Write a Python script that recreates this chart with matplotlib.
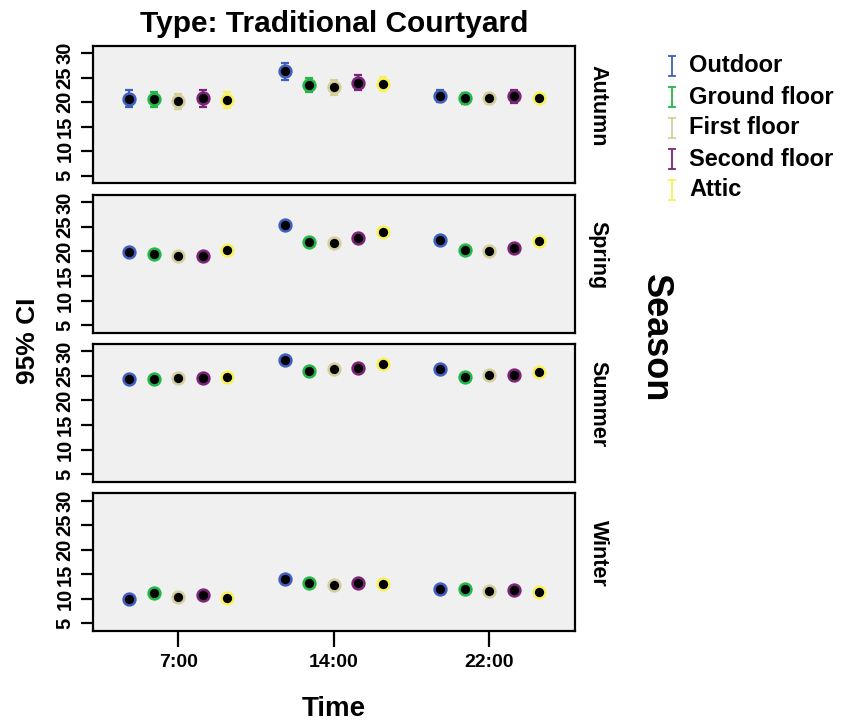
import numpy as np
import matplotlib
matplotlib.use('Agg')
import matplotlib.pyplot as plt
from matplotlib.lines import Line2D
from matplotlib.path import Path

plt.rcParams['font.family'] = ['Liberation Sans', 'DejaVu Sans']
plt.rcParams['font.weight'] = 'bold'

times = ['7:00', '14:00', '22:00']
locations = ['Outdoor', 'Ground floor', 'First floor', 'Second floor', 'Attic']
colors = ['#3f5fbf', '#22b845', '#d6cf9c', '#7b2479', '#f7f25a']
seasons = ['Autumn', 'Spring', 'Summer', 'Winter']

# mean temperature, one row per location, one column per time
autumn = [[20.7, 26.25, 21.3],
          [20.55, 23.5, 20.75],
          [20.15, 23.05, 20.75],
          [20.8, 23.95, 21.2],
          [20.5, 23.75, 20.8]]
spring = [[19.85, 25.4, 22.4],
          [19.45, 22.0, 20.3],
          [19.0, 21.8, 20.0],
          [19.0, 22.8, 20.7],
          [20.25, 24.0, 22.2]]
summer = [[24.3, 28.2, 26.35],
          [24.45, 26.0, 24.7],
          [24.65, 26.4, 25.1],
          [24.6, 26.55, 25.2],
          [24.85, 27.5, 25.9]]
winter = [[10.05, 14.0, 12.0],
          [11.2, 13.25, 11.95],
          [10.4, 12.85, 11.7],
          [10.75, 13.25, 11.9],
          [10.15, 13.05, 11.5]]

# 95% CI half widths
autumn_ci = [[1.7, 1.65, 1.25],
             [1.45, 1.5, 1.2],
             [1.5, 1.5, 1.1],
             [1.75, 1.5, 1.3],
             [1.6, 1.45, 1.0]]
spring_ci = [[0.7, 0.7, 0.6]] * 5
summer_ci = [[0.6, 0.6, 0.5]] * 5
winter_ci = [[0.5, 0.5, 0.5]] * 5

means = [autumn, spring, summer, winter]
cis = [autumn_ci, spring_ci, summer_ci, winter_ci]

W, H = 843, 721
fig = plt.figure(figsize=(W / 100, H / 100), dpi=100)

left, right = 92.7, 575
tops = [45.7, 195, 344, 493.3]
ph = 137.5
offsets = (np.arange(5) - 2) * 0.158
x = np.arange(len(times))

for k, season in enumerate(seasons):
    ax = fig.add_axes([left / W, 1 - (tops[k] + ph) / H, (right - left) / W, ph / H])
    ax.set_facecolor('#f0f0f0')
    for s in ax.spines.values():
        s.set_linewidth(1.6)
    m = np.array(means[k])
    e = np.array(cis[k])
    for i in range(5):
        ax.errorbar(x + offsets[i], m[i], yerr=e[i], fmt='none', ecolor=colors[i],
                    elinewidth=1.6, capsize=3, capthick=1.6, zorder=2)
        ax.plot(x + offsets[i], m[i], 'o', ms=8.5, mfc='black', mec=colors[i], mew=1.8,
                linestyle='none', zorder=3)
    ax.set_xlim(-0.55, 2.55)
    ax.set_ylim(3.5, 31.5)
    ax.set_yticks([5, 10, 15, 20, 25, 30])
    ax.set_yticklabels(['5', '10', '15', '20', '25', '30'], rotation=90, va='center')
    ax.tick_params(axis='y', length=9, width=1.6, pad=4, labelsize=14.5)
    if k == 3:
        ax.set_xticks(x)
        ax.set_xticklabels(times)
        ax.tick_params(axis='x', length=11.5, width=1.6, pad=5, labelsize=14)
    else:
        ax.set_xticks([])
    fig.text(598 / W, 1 - (tops[k] + ph / 2 - 9) / H, season, rotation=-90,
             ha='center', va='center', fontsize=15.5, fontweight='bold')

fig.text(334 / W, 1 - 24 / H, 'Type: Traditional Courtyard', ha='center', va='center',
         fontsize=21.5, fontweight='bold')
fig.text(334 / W, 1 - 709 / H, 'Time', ha='center', va='center', fontsize=20, fontweight='bold')
fig.text(28 / W, 1 - 341 / H, '95% CI', rotation=90, ha='center', va='center',
         fontsize=19, fontweight='bold')
fig.text(655 / W, 1 - 338 / H, 'Season', rotation=-90, ha='center', va='center',
         fontsize=26, fontweight='bold')

# legend with I-beam glyphs
ibeam = Path([(-0.45, 1), (0.45, 1), (0, 1), (0, -1), (-0.45, -1), (0.45, -1)],
             [Path.MOVETO, Path.LINETO, Path.MOVETO, Path.LINETO, Path.MOVETO, Path.LINETO])
rows = [66, 97, 128, 159, 190]
for i, lab in enumerate(locations):
    yf = 1 - rows[i] / H
    fig.add_artist(Line2D([672 / W], [yf], marker=ibeam, ms=14, mew=1.3, mec=colors[i],
                          mfc='none', linestyle='none', transform=fig.transFigure))
    fig.text(689 / W, yf, lab, ha='left', va='center', fontsize=17, fontweight='bold')

fig.savefig('out.png', dpi=100)
